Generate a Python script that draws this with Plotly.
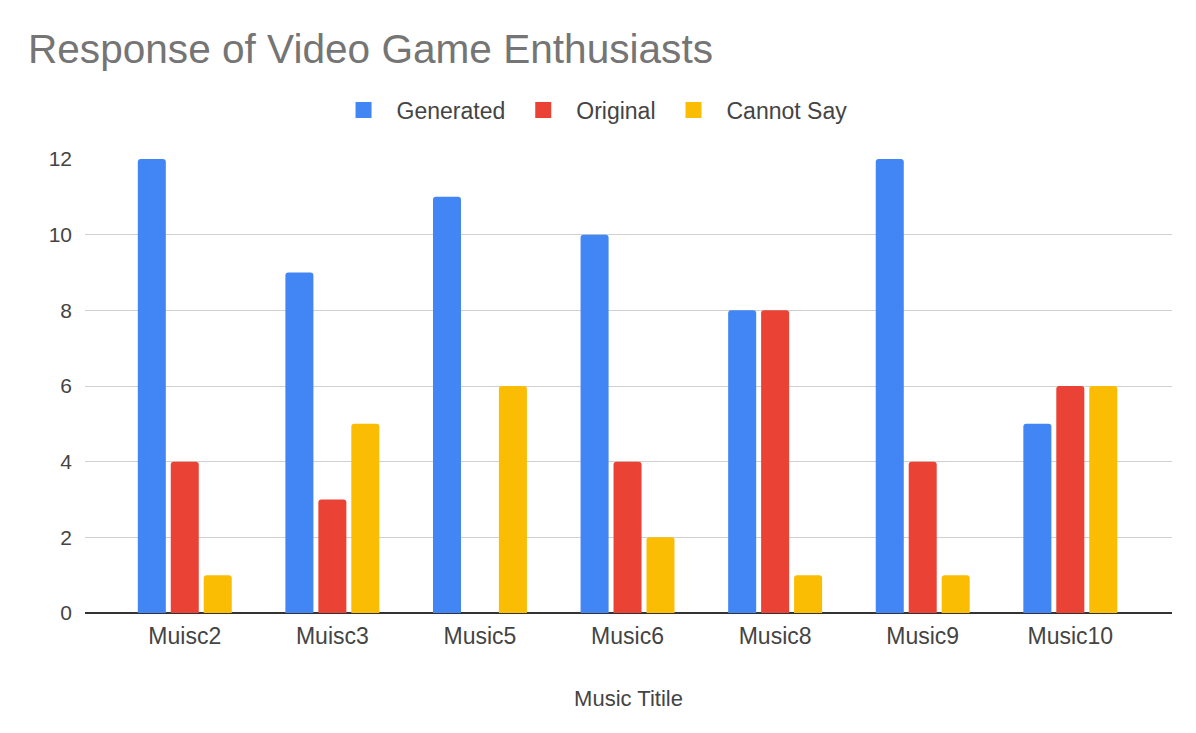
import plotly.graph_objects as go

# Survey responses per music track
titles = ["Muisc2", "Muisc3", "Music5", "Music6", "Music8", "Music9", "Music10"]
generated = [12, 9, 11, 10, 8, 12, 5]
original = [4, 3, 0, 4, 8, 4, 6]
cannot_say = [1, 5, 6, 2, 1, 1, 6]
y_ticks = [0, 2, 4, 6, 8, 10, 12]

series = [
    ("Generated", generated, "#4285F4"),
    ("Original", original, "#EA4335"),
    ("Cannot Say", cannot_say, "#FBBC04"),
]

fig = go.Figure()
for name, vals, color in series:
    fig.add_trace(go.Bar(x=titles, y=vals, name=name, marker_color=color,
                         marker_line_width=0, legendgroup=name, showlegend=False))
# Larger square swatches for the legend entries
for name, vals, color in series:
    fig.add_trace(go.Scatter(x=[None], y=[None], mode="markers", name=name,
                             legendgroup=name, hoverinfo="skip",
                             marker=dict(symbol="square", size=16, color=color)))

font_family = "Liberation Sans, Arial, sans-serif"

fig.update_layout(
    width=1196, height=733,
    margin=dict(l=85, r=24, t=159, b=120),
    paper_bgcolor="white", plot_bgcolor="white",
    barmode="group", bargap=0.33, bargroupgap=0.15, barcornerradius=3,
    font=dict(family=font_family, color="#444444"),
    title=dict(text="Response of Video Game Enthusiasts", x=28 / 1196, xanchor="left",
               y=1 - 49 / 733, yanchor="middle",
               font=dict(size=40.6, color="#757575", family=font_family)),
    legend=dict(orientation="h", x=0.466, xanchor="center", y=1 + 49 / 454, yanchor="middle",
                font=dict(size=23, color="#444444"), itemsizing="trace",
                traceorder="normal", itemwidth=56),
    showlegend=True,
)

fig.update_xaxes(
    type="category", range=[-0.676, 6.689],
    showgrid=False, showline=False, ticks="", ticklabelstandoff=7,
    tickfont=dict(size=23, color="#444444"),
    title=dict(text="Music Titile", font=dict(size=22, color="#444444"), standoff=42),
)

fig.update_yaxes(
    range=[0, 12], tickvals=y_ticks, ticktext=[str(v) for v in y_ticks],
    showgrid=True, gridcolor="#d0d0d0", gridwidth=1,
    zeroline=True, zerolinecolor="#333333", zerolinewidth=2,
    ticks="", ticklabelstandoff=12,
    tickfont=dict(size=21, color="#444444"),
)

fig.write_html("out.html")
